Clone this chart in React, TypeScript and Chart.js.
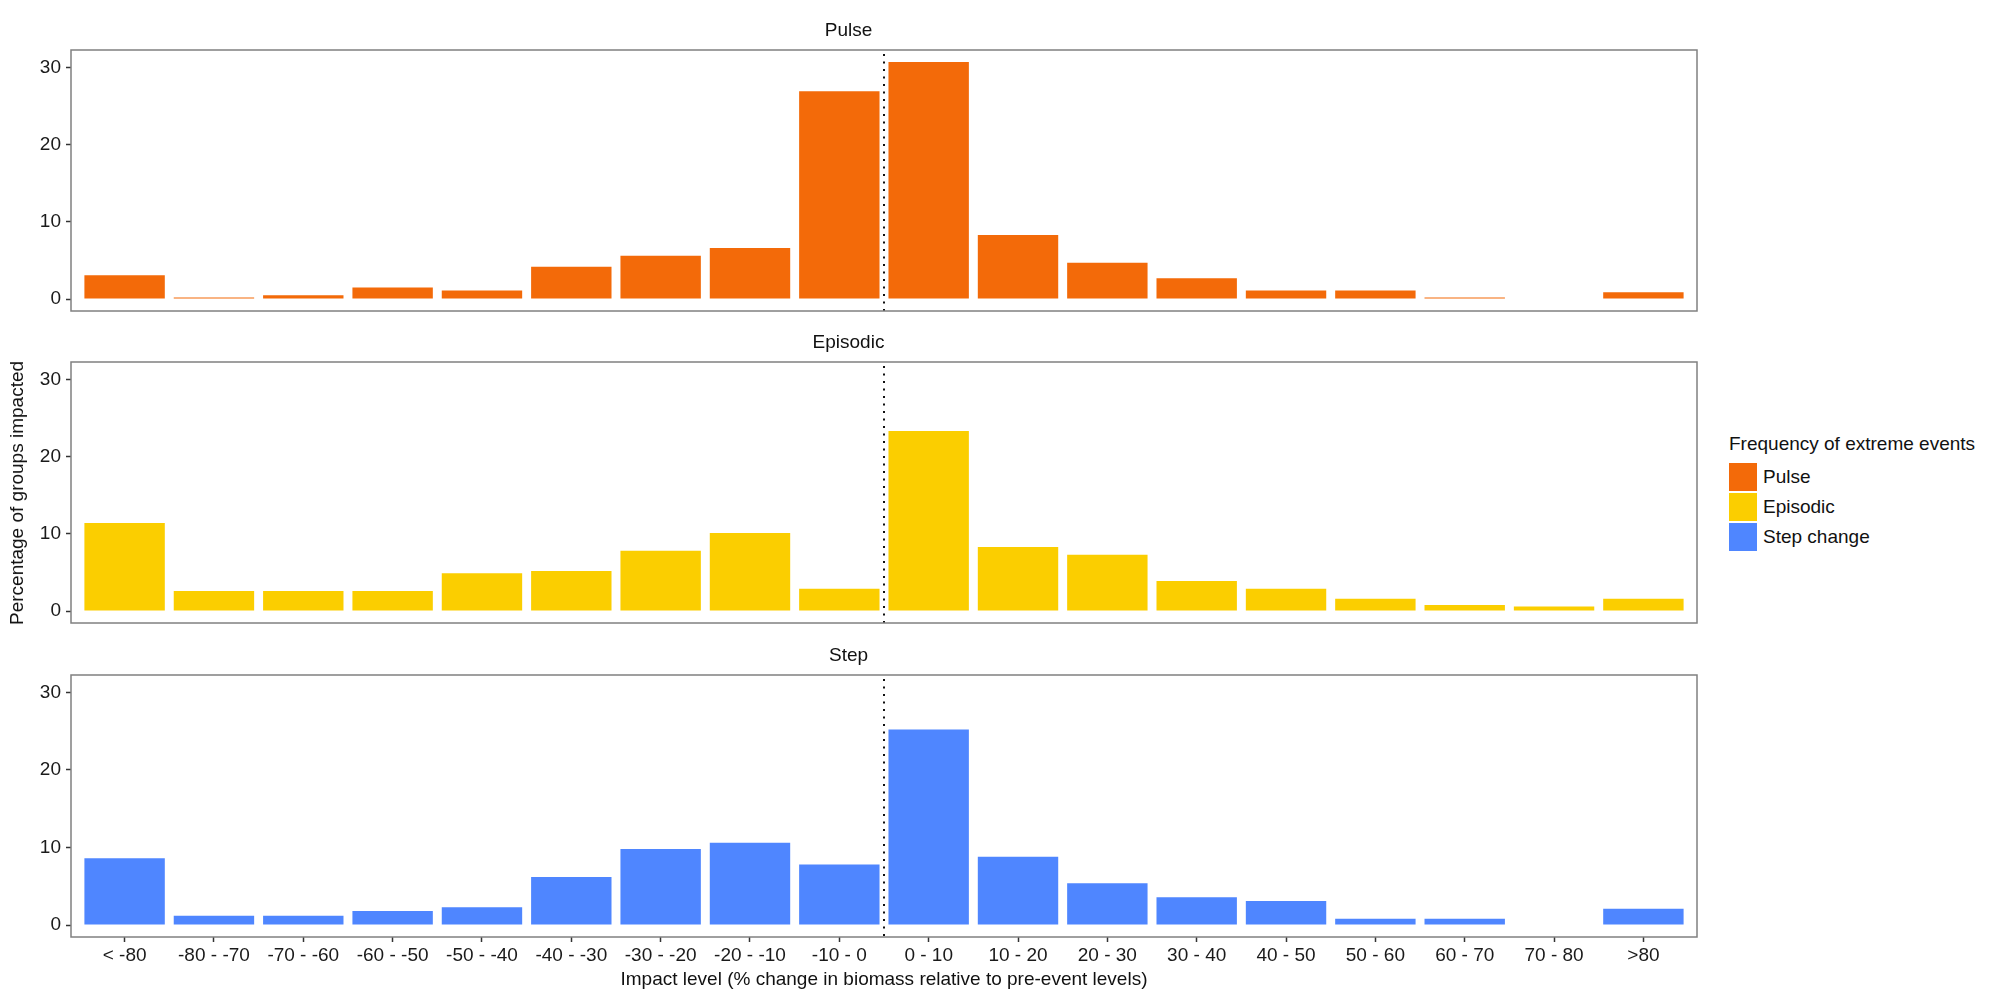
import { useEffect, useRef } from "react"
import { Chart, registerables } from "chart.js"

Chart.register(...registerables)

const categories = [
  "< -80", "-80 - -70", "-70 - -60", "-60 - -50", "-50 - -40", "-40 - -30",
  "-30 - -20", "-20 - -10", "-10 - 0", "0 - 10", "10 - 20", "20 - 30",
  "30 - 40", "40 - 50", "50 - 60", "60 - 70", "70 - 80", ">80",
]
const pulseValues = [3.1, 0.2, 0.5, 1.5, 1.1, 4.2, 5.6, 6.6, 26.9, 30.7, 8.3, 4.7, 2.7, 1.1, 1.1, 0.2, 0, 0.9]
const episodicValues = [11.4, 2.6, 2.6, 2.6, 4.9, 5.2, 7.8, 10.1, 2.9, 23.3, 8.3, 7.3, 3.9, 2.9, 1.6, 0.8, 0.6, 1.6]
const stepValues = [8.6, 1.2, 1.2, 1.8, 2.3, 6.2, 9.8, 10.6, 7.8, 25.2, 8.8, 5.4, 3.6, 3.1, 0.8, 0.8, 0, 2.1]
const panelTitles = ["Pulse", "Episodic", "Step"]
const legendLabels = ["Pulse", "Episodic", "Step change"]
const seriesColors = ["#F36A09", "#FBCE00", "#4F86FF"]
const yTicks = [0, 10, 20, 30]
// boundary between "-10 - 0" and "0 - 10"
const zeroBoundary = 9.5

const FONT = "'Liberation Sans', Arial, sans-serif"

const panelDecor = {
  id: "panelDecor",
  afterDatasetsDraw(chart: Chart) {
    const { ctx, chartArea: a } = chart
    const x = chart.scales.x.getPixelForValue(zeroBoundary)
    ctx.save()
    ctx.strokeStyle = "#111"
    ctx.lineWidth = 2
    ctx.setLineDash([2, 5.5])
    ctx.beginPath()
    ctx.moveTo(x, a.top + 4)
    ctx.lineTo(x, a.bottom)
    ctx.stroke()
    ctx.setLineDash([])
    ctx.strokeStyle = "#808080"
    ctx.lineWidth = 1.5
    ctx.strokeRect(a.left, a.top, a.right - a.left, a.bottom - a.top)
    ctx.restore()
  },
}

interface PanelProps {
  title: string
  values: number[]
  color: string
  showAxis: boolean
  top: number
  height: number
}

function Panel({ title, values, color, showAxis, top, height }: PanelProps) {
  const canvasRef = useRef<HTMLCanvasElement>(null)

  useEffect(() => {
    if (!canvasRef.current) return
    const chart = new Chart(canvasRef.current, {
      type: "bar",
      data: {
        datasets: [
          {
            data: values.map((v, i) => ({ x: i + 1, y: v })),
            backgroundColor: color,
            borderWidth: 0,
            barPercentage: 0.9,
            categoryPercentage: 1,
          },
        ],
      },
      options: {
        responsive: false,
        animation: false,
        layout: { padding: { left: 0, right: 3, top: 0, bottom: showAxis ? 0 : 1 } },
        plugins: {
          legend: { display: false },
          tooltip: { enabled: false },
          title: {
            display: true,
            text: title,
            color: "#111",
            font: { size: 19, family: FONT, weight: "normal" },
            padding: { top: 19, bottom: 8.2 },
          },
        },
        scales: {
          x: {
            type: "linear",
            offset: false,
            min: 0.4,
            max: 18.6,
            display: showAxis,
            afterBuildTicks: (s: any) => {
              s.ticks = categories.map((_, i) => ({ value: i + 1 }))
            },
            afterFit: (s: any) => {
              if (!showAxis) return
              s.height = 63
              s.paddingLeft = 0
              s.paddingRight = 0
            },
            ticks: {
              autoSkip: false,
              maxRotation: 0,
              minRotation: 0,
              padding: 2,
              color: "#1a1a1a",
              font: { size: 19, family: FONT },
              callback: (v: any) => categories[Number(v) - 1],
            },
            grid: {
              offset: false,
              drawOnChartArea: false,
              drawTicks: true,
              tickLength: 5,
              tickColor: "#333",
              tickWidth: 1.5,
            },
            border: { display: false },
            title: {
              display: true,
              text: "Impact level (% change in biomass relative to pre-event levels)",
              color: "#111",
              font: { size: 19, family: FONT },
              padding: { top: 0, bottom: 9 },
            },
          },
          y: {
            min: -1.54,
            max: 32.24,
            afterBuildTicks: (s: any) => {
              s.ticks = yTicks.map((v) => ({ value: v }))
            },
            afterFit: (s: any) => {
              s.width = 71
              s.paddingTop = 0
              s.paddingBottom = 0
            },
            ticks: {
              padding: 5,
              color: "#1a1a1a",
              font: { size: 19, family: FONT },
            },
            grid: {
              drawOnChartArea: false,
              drawTicks: true,
              tickLength: 5,
              tickColor: "#333",
              tickWidth: 1.5,
            },
            border: { display: false },
          },
        },
      },
      plugins: [panelDecor],
    })
    return () => chart.destroy()
  }, [title, values, color, showAxis])

  return (
    <canvas
      ref={canvasRef}
      width={1700}
      height={height}
      style={{ position: "absolute", left: 0, top, width: 1700, height }}
    />
  )
}

export default function App() {
  const panelValues = [pulseValues, episodicValues, stepValues]
  const tops = [0, 312, 625]
  const heights = [312, 312, 375]

  return (
    <div
      style={{
        position: "fixed",
        left: 0,
        top: 0,
        width: 2000,
        height: 1000,
        background: "#fff",
        fontFamily: FONT,
        color: "#111",
      }}
    >
      {panelTitles.map((t, i) => (
        <Panel
          key={t}
          title={t}
          values={panelValues[i]}
          color={seriesColors[i]}
          showAxis={i === 2}
          top={tops[i]}
          height={heights[i]}
        />
      ))}

      <div
        style={{
          position: "absolute",
          left: 17,
          top: 493,
          fontSize: 19,
          whiteSpace: "nowrap",
          transform: "translate(-50%, -50%) rotate(-90deg)",
        }}
      >
        Percentage of groups impacted
      </div>

      <div style={{ position: "absolute", left: 1729, top: 433 }}>
        <div style={{ fontSize: 19, lineHeight: "22px", marginBottom: 7 }}>
          Frequency of extreme events
        </div>
        {legendLabels.map((label, i) => (
          <div key={label} style={{ display: "flex", alignItems: "center", height: 30 }}>
            <div style={{ width: 28, height: 28, background: seriesColors[i] }} />
            <span style={{ fontSize: 19, marginLeft: 6 }}>{label}</span>
          </div>
        ))}
      </div>
    </div>
  )
}
